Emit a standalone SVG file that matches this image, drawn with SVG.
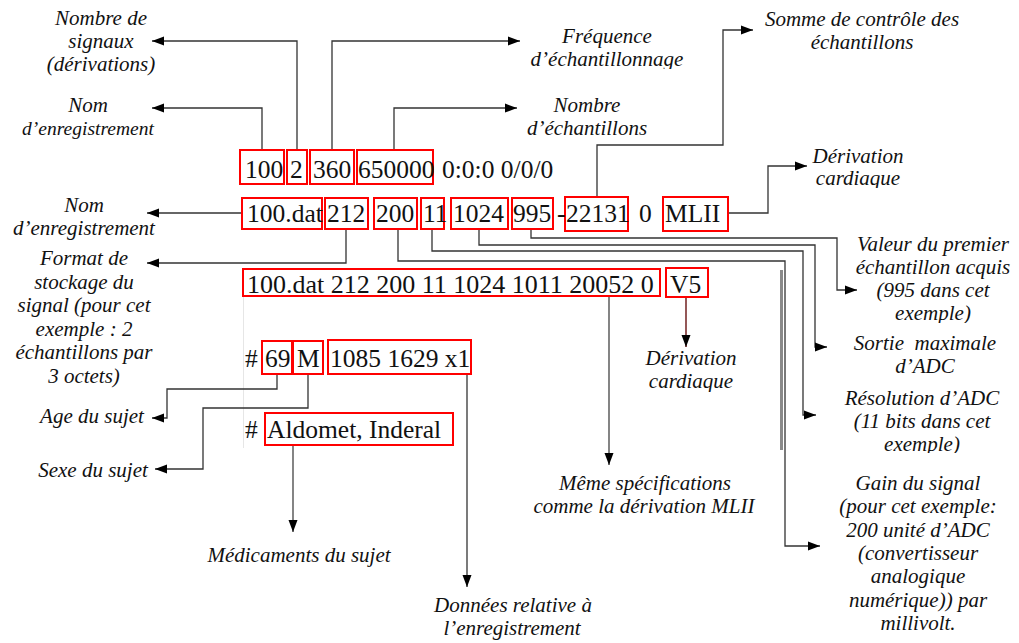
<svg xmlns="http://www.w3.org/2000/svg" width="1019" height="643" viewBox="0 0 1019 643">
  <style>
    .rec { font-family: "Liberation Serif", "Times New Roman", serif; font-size: 25.5px; fill: #111; }
    .lbl { font-family: "Liberation Serif", "Times New Roman", serif; font-style: italic; font-size: 21px; fill: #111; text-anchor: middle; }
    .box { fill: none; stroke: #f00; stroke-width: 2; }
    .wire { fill: none; stroke: #333; stroke-width: 1.3; }
    .wire-g { fill: none; stroke: #666; stroke-width: 1.6; }
    .wire-r { fill: none; stroke: #7a2e2e; stroke-width: 1.6; }
  </style>
  <defs>
    <marker id="ah" markerUnits="userSpaceOnUse" markerWidth="12" markerHeight="10" refX="12" refY="5" orient="auto">
      <path d="M0,0.5 L12,5 L0,9.5 z" fill="#000"/>
    </marker>
    <clipPath id="clipFreq"><rect x="500" y="0" width="220" height="69"/></clipPath>
    <clipPath id="clipDerivTop"><rect x="780" y="140" width="160" height="48"/></clipPath>
    <clipPath id="clipValeur"><rect x="840" y="230" width="179" height="93"/></clipPath>
    <clipPath id="clipResol"><rect x="830" y="385" width="189" height="68"/></clipPath>
    <clipPath id="clipDerivMid"><rect x="630" y="345" width="130" height="47"/></clipPath>
  </defs>

  <rect width="1019" height="643" fill="#fff"/>

  <!-- connectors -->
  <g id="connectors">
    <!-- header line -->
    <path class="wire" d="M297,150 V41 H152" marker-end="url(#ah)"/>
    <path class="wire" d="M262,150 V108 H152" marker-end="url(#ah)"/>
    <path class="wire" d="M332,150 V41 H520" marker-end="url(#ah)"/>
    <path class="wire" d="M394,150 V108 H517" marker-end="url(#ah)"/>
    <!-- MLII signal line -->
    <path class="wire" d="M242,213 H147" marker-end="url(#ah)"/>
    <path class="wire" d="M346,229 V263 H147" marker-end="url(#ah)"/>
    <path class="wire" d="M597,197 V145 H723 V30 H753" marker-end="url(#ah)"/>
    <path class="wire" d="M728,213 H768 V166 H807" marker-end="url(#ah)"/>
    <path class="wire" d="M531,229 V238 H837 V290 H857" marker-end="url(#ah)"/>
    <path class="wire" d="M479,229 V245 H815 V347 H827" marker-end="url(#ah)"/>
    <path class="wire" d="M432,229 V251 H803 V415 H816" marker-end="url(#ah)"/>
    <path class="wire" d="M398,229 V261 H785 V546 H820" marker-end="url(#ah)"/>
    <rect x="780" y="270" width="3" height="180" fill="#8a8a8a"/>
    <!-- V5 signal line -->
    <path class="wire-g" d="M609,296 V465" marker-end="url(#ah)"/>
    <path class="wire-r" d="M686,297 V347" marker-end="url(#ah)"/>
    <!-- comment lines -->
    <line x1="243.5" y1="297" x2="243.5" y2="448" stroke="#e6e6e6" stroke-width="1"/>
    <path class="wire" d="M277,374 V389 H167 V418 H152" marker-end="url(#ah)"/>
    <path class="wire" d="M308,374 V408 H203 V469 H155" marker-end="url(#ah)"/>
    <path class="wire" d="M467,374 V587" marker-end="url(#ah)"/>
    <path class="wire-g" d="M293,445 V532" marker-end="url(#ah)"/>
  </g>

  <!-- record line 1: header -->
  <g id="header-record">
    <rect class="box" x="240" y="150" width="44" height="34"/>
    <rect class="box" x="287" y="150" width="20" height="34"/>
    <rect class="box" x="310" y="150" width="44" height="34"/>
    <rect class="box" x="357" y="150" width="76" height="34"/>
    <text class="rec" x="245" y="178">100</text>
    <text class="rec" x="290" y="178">2</text>
    <text class="rec" x="313" y="178">360</text>
    <text class="rec" x="358" y="178">650000</text>
    <text class="rec" x="442" y="178">0:0:0 0/0/0</text>
  </g>

  <!-- record line 2: MLII signal -->
  <g id="signal-mlii">
    <rect class="box" x="242" y="198" width="80" height="31"/>
    <rect class="box" x="325" y="198" width="43" height="31"/>
    <rect class="box" x="374" y="198" width="43" height="31"/>
    <rect class="box" x="421" y="198" width="23" height="31"/>
    <rect class="box" x="451" y="198" width="57" height="31"/>
    <rect class="box" x="512" y="198" width="41" height="31"/>
    <rect class="box" x="565" y="197" width="63" height="34"/>
    <rect class="box" x="663" y="197" width="65" height="34"/>
    <text class="rec" x="247" y="222">100.dat</text>
    <text class="rec" x="327" y="222">212</text>
    <text class="rec" x="376" y="222">200</text>
    <text class="rec" x="423" y="222">11</text>
    <text class="rec" x="453" y="222">1024</text>
    <text class="rec" x="513" y="222">995</text>
    <text class="rec" x="557" y="222">-</text>
    <text class="rec" x="566" y="222">22131</text>
    <text class="rec" x="639" y="222">0</text>
    <text class="rec" x="665" y="222">MLII</text>
  </g>

  <!-- record line 3: V5 signal -->
  <g id="signal-v5">
    <rect class="box" x="243" y="269" width="417" height="27"/>
    <rect class="box" x="666" y="268" width="42" height="29"/>
    <text class="rec" x="247" y="293" style="font-size:26px">100.dat 212 200 11 1024 1011 20052 0</text>
    <text class="rec" x="670" y="293">V5</text>
  </g>

  <!-- comment lines -->
  <g id="comment-subject">
    <text class="rec" x="245" y="367">#</text>
    <rect class="box" x="262" y="341" width="30" height="33"/>
    <rect class="box" x="293" y="341" width="30" height="33"/>
    <rect class="box" x="328" y="340" width="143" height="34"/>
    <text class="rec" x="265" y="367">69</text>
    <text class="rec" x="297" y="367">M</text>
    <text class="rec" x="330" y="367">1085 1629 x1</text>
  </g>
  <g id="comment-drugs">
    <text class="rec" x="245" y="438">#</text>
    <rect class="box" x="265" y="413" width="188" height="32"/>
    <text class="rec" x="267" y="438">Aldomet, Inderal</text>
  </g>

  <!-- annotations -->
  <g id="lbl-nb-signaux">
    <text class="lbl" x="101" y="25">Nombre de</text>
    <text class="lbl" x="101" y="48">signaux</text>
    <text class="lbl" x="101" y="71">(dérivations)</text>
  </g>
  <g id="lbl-nom-1">
    <text class="lbl" x="88" y="112">Nom</text>
    <text class="lbl" x="88" y="135" style="font-size:19.5px">d’enregistrement</text>
  </g>
  <g id="lbl-frequence" clip-path="url(#clipFreq)">
    <text class="lbl" x="607" y="43">Fréquence</text>
    <text class="lbl" x="607" y="66">d’échantillonnage</text>
  </g>
  <g id="lbl-nb-echantillons">
    <text class="lbl" x="587" y="112">Nombre</text>
    <text class="lbl" x="587" y="135">d’échantillons</text>
  </g>
  <g id="lbl-somme">
    <text class="lbl" x="862" y="26">Somme de contrôle des</text>
    <text class="lbl" x="862" y="49">échantillons</text>
  </g>
  <g id="lbl-derivation-1" clip-path="url(#clipDerivTop)">
    <text class="lbl" x="858" y="163">Dérivation</text>
    <text class="lbl" x="858" y="185">cardiaque</text>
  </g>
  <g id="lbl-nom-2">
    <text class="lbl" x="84" y="212">Nom</text>
    <text class="lbl" x="84" y="235">d’enregistrement</text>
  </g>
  <g id="lbl-format">
    <text class="lbl" x="84" y="265">Format de</text>
    <text class="lbl" x="84" y="289">stockage du</text>
    <text class="lbl" x="84" y="312">signal (pour cet</text>
    <text class="lbl" x="84" y="336">exemple : 2</text>
    <text class="lbl" x="84" y="359">échantillons par</text>
    <text class="lbl" x="84" y="383">3 octets)</text>
  </g>
  <g id="lbl-valeur" clip-path="url(#clipValeur)">
    <text class="lbl" x="933" y="251">Valeur du premier</text>
    <text class="lbl" x="933" y="274">échantillon acquis</text>
    <text class="lbl" x="933" y="297">(995 dans cet</text>
    <text class="lbl" x="933" y="320">exemple)</text>
  </g>
  <g id="lbl-sortie">
    <text class="lbl" x="925" y="350" xml:space="preserve">Sortie  maximale</text>
    <text class="lbl" x="925" y="373">d’ADC</text>
  </g>
  <g id="lbl-resolution" clip-path="url(#clipResol)">
    <text class="lbl" x="922" y="405">Résolution d’ADC</text>
    <text class="lbl" x="922" y="428">(11 bits dans cet</text>
    <text class="lbl" x="922" y="451">exemple)</text>
  </g>
  <g id="lbl-gain">
    <text class="lbl" x="918" y="490">Gain du signal</text>
    <text class="lbl" x="918" y="513">(pour cet exemple:</text>
    <text class="lbl" x="918" y="537">200 unité d’ADC</text>
    <text class="lbl" x="918" y="560">(convertisseur</text>
    <text class="lbl" x="918" y="583">analogique</text>
    <text class="lbl" x="918" y="607">numérique)) par</text>
    <text class="lbl" x="918" y="630">millivolt.</text>
  </g>
  <g id="lbl-meme">
    <text class="lbl" x="645" y="490">Même spécifications</text>
    <text class="lbl" x="644" y="513">comme la dérivation MLII</text>
  </g>
  <g id="lbl-derivation-2" clip-path="url(#clipDerivMid)">
    <text class="lbl" x="691" y="365">Dérivation</text>
    <text class="lbl" x="691" y="388">cardiaque</text>
  </g>
  <g id="lbl-age">
    <text class="lbl" x="92" y="423">Age du sujet</text>
  </g>
  <g id="lbl-sexe">
    <text class="lbl" x="93" y="477">Sexe du sujet</text>
  </g>
  <g id="lbl-medicaments">
    <text class="lbl" x="299" y="562">Médicaments du sujet</text>
  </g>
  <g id="lbl-donnees">
    <text class="lbl" x="513" y="612">Données relative à</text>
    <text class="lbl" x="512" y="635">l’enregistrement</text>
  </g>
</svg>
